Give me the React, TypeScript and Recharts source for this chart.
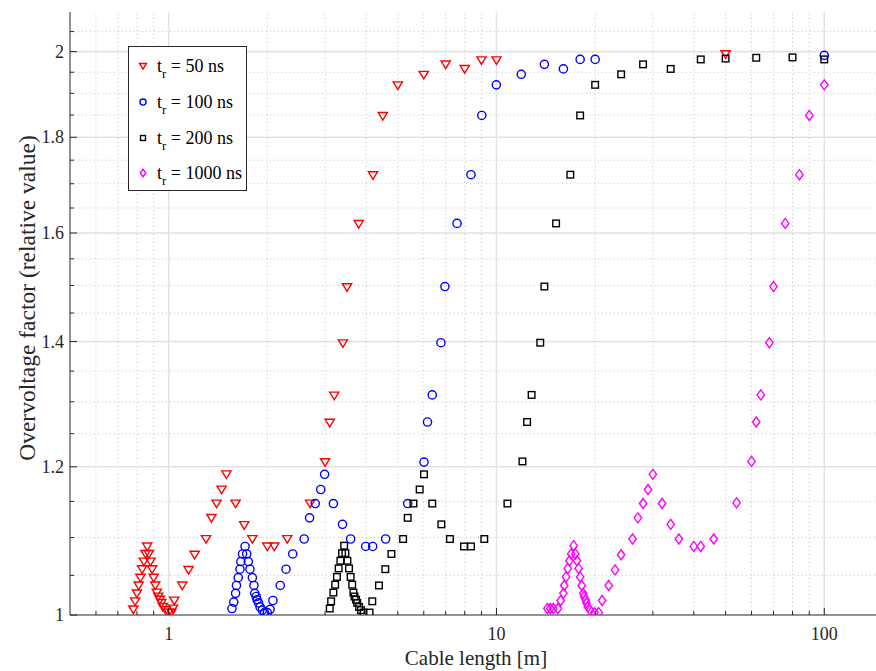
import { ScatterChart, Scatter, XAxis, YAxis, ReferenceLine } from "recharts";

// t_r = 50 ns
const tr50X = [0.78, 0.79, 0.8, 0.81, 0.82, 0.83, 0.84, 0.85, 0.86, 0.87, 0.88, 0.89, 0.9, 0.91, 0.92, 0.93, 0.94, 0.95, 0.96, 0.98, 1.0, 1.02, 1.03, 1.04, 1.1, 1.15, 1.2, 1.3, 1.35, 1.4, 1.45, 1.5, 1.6, 1.7, 1.8, 2.0, 2.1, 2.3, 2.7, 3.0, 3.1, 3.2, 3.4, 3.5, 3.8, 4.2, 4.5, 5, 6, 7, 8, 9, 10, 50];
const tr50Y = [1.007, 1.017, 1.027, 1.037, 1.047, 1.058, 1.068, 1.078, 1.088, 1.078, 1.068, 1.058, 1.047, 1.037, 1.028, 1.023, 1.019, 1.015, 1.01, 1.006, 1.003, 1.003, 1.008, 1.018, 1.037, 1.057, 1.077, 1.098, 1.127, 1.147, 1.167, 1.189, 1.147, 1.117, 1.098, 1.088, 1.088, 1.098, 1.147, 1.207, 1.267, 1.31, 1.397, 1.497, 1.618, 1.718, 1.848, 1.919, 1.944, 1.969, 1.958, 1.979, 1.979, 1.994];

// t_r = 100 ns
const tr100X = [1.56, 1.58, 1.6, 1.61, 1.63, 1.65, 1.66, 1.68, 1.71, 1.73, 1.75, 1.77, 1.8, 1.82, 1.83, 1.85, 1.86, 1.88, 1.9, 1.93, 1.96, 2.0, 2.04, 2.08, 2.19, 2.28, 2.39, 2.59, 2.69, 2.8, 2.91, 2.99, 3.18, 3.39, 3.59, 3.99, 4.19, 4.59, 5.36, 6.01, 6.16, 6.37, 6.77, 6.96, 7.58, 8.36, 9.02, 9.99, 11.9, 14, 16, 18, 20, 100];
const tr100Y = [1.008, 1.016, 1.027, 1.037, 1.047, 1.058, 1.068, 1.078, 1.088, 1.078, 1.068, 1.058, 1.047, 1.037, 1.027, 1.023, 1.019, 1.015, 1.01, 1.006, 1.003, 1.003, 1.007, 1.018, 1.037, 1.058, 1.078, 1.098, 1.127, 1.147, 1.167, 1.189, 1.147, 1.118, 1.098, 1.088, 1.088, 1.098, 1.147, 1.207, 1.268, 1.311, 1.398, 1.498, 1.619, 1.719, 1.849, 1.92, 1.945, 1.969, 1.958, 1.981, 1.981, 1.991];

// t_r = 200 ns
const tr200X = [3.1, 3.13, 3.18, 3.22, 3.26, 3.3, 3.34, 3.38, 3.43, 3.46, 3.51, 3.55, 3.59, 3.63, 3.66, 3.69, 3.73, 3.76, 3.81, 3.86, 3.93, 4.1, 4.18, 4.38, 4.58, 4.78, 5.19, 5.36, 5.58, 5.83, 6.01, 6.37, 6.79, 7.21, 7.96, 8.36, 9.18, 10.8, 12, 12.4, 12.8, 13.6, 14, 15.2, 16.8, 18, 20, 24, 28, 34, 42, 50, 62, 80, 100];
const tr200Y = [1.008, 1.017, 1.028, 1.038, 1.048, 1.059, 1.069, 1.079, 1.089, 1.079, 1.069, 1.059, 1.048, 1.038, 1.028, 1.023, 1.019, 1.015, 1.01, 1.006, 1.003, 1.003, 1.017, 1.037, 1.058, 1.078, 1.098, 1.127, 1.147, 1.167, 1.189, 1.147, 1.118, 1.098, 1.088, 1.088, 1.098, 1.147, 1.208, 1.268, 1.311, 1.398, 1.498, 1.619, 1.719, 1.849, 1.92, 1.945, 1.969, 1.958, 1.981, 1.983, 1.985, 1.986, 1.981];

// t_r = 1000 ns
const tr1000X = [14.3, 14.6, 14.9, 15.4, 15.7, 16.0, 16.1, 16.3, 16.5, 16.7, 16.9, 17.2, 17.4, 17.6, 17.8, 18.0, 18.2, 18.4, 18.5, 18.7, 18.8, 19.0, 19.3, 19.9, 20.5, 21.0, 22, 23, 24, 26, 27, 28, 29, 30, 32, 34, 36, 40, 42, 46, 54, 60, 62, 64, 68, 70, 76, 84, 90, 100];
const tr1000Y = [1.008, 1.008, 1.008, 1.008, 1.018, 1.027, 1.037, 1.048, 1.059, 1.069, 1.078, 1.089, 1.078, 1.069, 1.059, 1.048, 1.037, 1.027, 1.023, 1.019, 1.015, 1.01, 1.006, 1.003, 1.003, 1.018, 1.037, 1.057, 1.077, 1.098, 1.127, 1.147, 1.167, 1.189, 1.147, 1.118, 1.098, 1.088, 1.088, 1.098, 1.148, 1.208, 1.268, 1.311, 1.398, 1.498, 1.619, 1.719, 1.849, 1.92];

const xMajorTicks = [1, 10, 100];
const xMinorTicks = [0.6, 0.7, 0.8, 0.9, 2, 3, 4, 5, 6, 7, 8, 9, 20, 30, 40, 50, 60, 70, 80, 90];
const yMajorTicks = [1, 1.2, 1.4, 1.6, 1.8, 2];
const yMinorTicks = [1.05, 1.1, 1.15, 1.25, 1.3, 1.35, 1.45, 1.5, 1.55, 1.65, 1.7, 1.75, 1.85, 1.9, 1.95, 2.05];

const xTicks = [...xMinorTicks, ...xMajorTicks].sort((a, b) => a - b);
const yTicks = [...yMinorTicks, ...yMajorTicks].sort((a, b) => a - b);

const AXIS = "#262626";
const FONT = "'Liberation Serif', 'Times New Roman', serif";
const RED = "#ff0000";
const BLUE = "#0000ff";
const BLACK = "#000000";
const MAGENTA = "#ff00ff";

const zip = (xs: number[], ys: number[]) => xs.map((x, i) => ({ x, y: ys[i] }));

const Marker = ({ kind, cx, cy, color, s = 1 }: any) => {
  const sw = 1.4;
  if (kind === "tri")
    return (
      <polygon
        points={`${cx - 4.6 * s},${cy - 3.4 * s} ${cx + 4.6 * s},${cy - 3.4 * s} ${cx},${cy + 4.2 * s}`}
        fill="none"
        stroke={color}
        strokeWidth={sw}
      />
    );
  if (kind === "circle") return <circle cx={cx} cy={cy} r={4.1 * s} fill="none" stroke={color} strokeWidth={sw} />;
  if (kind === "square")
    return <rect x={cx - 3.3 * s} y={cy - 3.3 * s} width={6.6 * s} height={6.6 * s} fill="none" stroke={color} strokeWidth={sw} />;
  return (
    <polygon
      points={`${cx},${cy - 5 * s} ${cx + 3.7 * s},${cy} ${cx},${cy + 5 * s} ${cx - 3.7 * s},${cy}`}
      fill="none"
      stroke={color}
      strokeWidth={sw}
    />
  );
};

const series = [
  { label: "50 ns", kind: "tri", color: RED, data: zip(tr50X, tr50Y) },
  { label: "100 ns", kind: "circle", color: BLUE, data: zip(tr100X, tr100Y) },
  { label: "200 ns", kind: "square", color: BLACK, data: zip(tr200X, tr200Y) },
  { label: "1000 ns", kind: "diamond", color: MAGENTA, data: zip(tr1000X, tr1000Y) },
];

const textStyle = { fontFamily: FONT, fill: AXIS };

const BottomTick = ({ x, y, payload }: any) => {
  const major = xMajorTicks.includes(payload.value);
  return (
    <g>
      <line x1={x} x2={x} y1={y} y2={y - (major ? 7 : 4)} stroke={AXIS} />
      {major && (
        <text x={x} y={y + 25} textAnchor="middle" fontSize={18} style={textStyle}>
          {payload.value}
        </text>
      )}
    </g>
  );
};

const TopTick = ({ x, y, payload }: any) => {
  const major = xMajorTicks.includes(payload.value);
  return <line x1={x} x2={x} y1={y} y2={y + (major ? 7 : 4)} stroke={AXIS} />;
};

const LeftTick = ({ x, y, payload }: any) => {
  const major = yMajorTicks.includes(payload.value);
  return (
    <g>
      <line x1={x} x2={x + (major ? 7 : 4)} y1={y} y2={y} stroke={AXIS} />
      {major && (
        <text x={x - 6} y={y + 6} textAnchor="end" fontSize={18} style={textStyle}>
          {payload.value}
        </text>
      )}
    </g>
  );
};

const RightTick = ({ x, y, payload }: any) => {
  const major = yMajorTicks.includes(payload.value);
  return <line x1={x} x2={x - (major ? 7 : 4)} y1={y} y2={y} stroke={AXIS} />;
};

const Legend = () => (
  <div
    style={{
      position: "absolute",
      left: 128,
      top: 46,
      width: 117,
      height: 143,
      border: `1px solid ${AXIS}`,
      background: "#fff",
      fontFamily: FONT,
      color: "#000",
    }}
  >
    {series.map((s, i) => (
      <div key={s.label} style={{ position: "absolute", left: 0, top: 9 + i * 35.8, height: 20, width: 117 }}>
        <svg width={20} height={20} style={{ position: "absolute", left: 4, top: 0 }}>
          <Marker kind={s.kind} cx={10} cy={10} color={s.color} s={0.75} />
        </svg>
        <div style={{ position: "absolute", left: 28, top: 0, fontSize: 18, lineHeight: "20px", whiteSpace: "nowrap" }}>
          t<span style={{ fontSize: 13, position: "relative", top: 6 }}>r</span> = {s.label}
        </div>
      </div>
    ))}
  </div>
);

export default function App() {
  return (
    <div style={{ position: "absolute", left: 0, top: 0, width: 876, height: 671, overflow: "hidden", background: "#fff" }}>
      <ScatterChart width={890} height={671} margin={{ top: 12, right: 8, bottom: 0, left: 0 }}>
        <XAxis
          xAxisId="b"
          dataKey="x"
          type="number"
          scale="log"
          domain={[0.5, 150]}
          allowDataOverflow
          ticks={xTicks}
          interval={0}
          tick={<BottomTick />}
          tickSize={0}
          tickMargin={0}
          tickLine={false}
          axisLine={{ stroke: AXIS }}
          height={56}
          label={{
            content: () => (
              <text x={476} y={665} textAnchor="middle" fontSize={21} style={textStyle}>
                Cable length [m]
              </text>
            ),
          }}
        />
        <XAxis
          xAxisId="t"
          orientation="top"
          type="number"
          scale="log"
          domain={[0.5, 150]}
          allowDataOverflow
          ticks={xTicks}
          interval={0}
          tick={<TopTick />}
          tickSize={0}
          tickMargin={0}
          tickLine={false}
          axisLine={{ stroke: AXIS }}
          height={0}
        />
        <YAxis
          yAxisId="l"
          dataKey="y"
          type="number"
          scale="log"
          domain={[1, 2.1]}
          allowDataOverflow
          ticks={yTicks}
          interval={0}
          tick={<LeftTick />}
          tickSize={0}
          tickMargin={0}
          tickLine={false}
          axisLine={{ stroke: AXIS }}
          width={70}
          label={{
            content: () => (
              <text
                x={27}
                y={298}
                transform="rotate(-90 27 298)"
                textAnchor="middle"
                dominantBaseline="central"
                fontSize={23.5}
                style={textStyle}
              >
                Overvoltage factor (relative value)
              </text>
            ),
          }}
        />
        <YAxis
          yAxisId="r"
          orientation="right"
          type="number"
          scale="log"
          domain={[1, 2.1]}
          allowDataOverflow
          ticks={yTicks}
          interval={0}
          tick={<RightTick />}
          tickSize={0}
          tickMargin={0}
          tickLine={false}
          axisLine={{ stroke: AXIS }}
          width={0}
        />
        {xMinorTicks.map((v) => (
          <ReferenceLine key={`xm${v}`} x={v} xAxisId="b" yAxisId="l" stroke="#c4c4c4" strokeDasharray="1 3" />
        ))}
        {yMinorTicks.map((v) => (
          <ReferenceLine key={`ym${v}`} y={v} xAxisId="b" yAxisId="l" stroke="#c4c4c4" strokeDasharray="1 3" />
        ))}
        {xMajorTicks.map((v) => (
          <ReferenceLine key={`xM${v}`} x={v} xAxisId="b" yAxisId="l" stroke="#e2e2e2" strokeWidth={1.5} />
        ))}
        {yMajorTicks.slice(1).map((v) => (
          <ReferenceLine key={`yM${v}`} y={v} xAxisId="b" yAxisId="l" stroke="#e2e2e2" strokeWidth={1.5} />
        ))}
        {series.map((s) => (
          <Scatter
            key={s.label}
            name={s.label}
            data={s.data}
            xAxisId="b"
            yAxisId="l"
            isAnimationActive={false}
            shape={(p: any) => <Marker kind={s.kind} cx={p.cx} cy={p.cy} color={s.color} />}
          />
        ))}
      </ScatterChart>
      <Legend />
    </div>
  );
}
